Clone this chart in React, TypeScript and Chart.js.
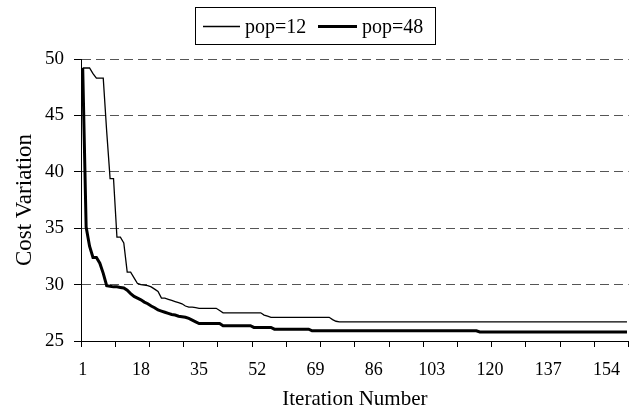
import { useEffect, useRef } from 'react';
import { Chart, registerables } from 'chart.js';

Chart.register(...registerables);

// ---- data ----
const iterations: string[] = Array.from({ length: 160 }, (_, i) => String(i + 1));
const xTickLabels = ['1', '18', '35', '52', '69', '86', '103', '120', '137', '154'];
const yTickValues = [25, 30, 35, 40, 45, 50];
const seriesNames = ['pop=12', 'pop=48'];

const pop12 = [
  49.2, 49.2, 49.2, 48.7, 48.3, 48.3, 48.3, 43.6, 39.4, 39.4,
  34.2, 34.2, 33.7, 31.1, 31.1, 30.6, 30.1, 30.0, 29.95, 29.9,
  29.8, 29.6, 29.4, 28.8, 28.8, 28.7, 28.6, 28.5, 28.4, 28.3,
  28.1, 28.0, 28.0, 27.95, 27.9, 27.9, 27.9, 27.9, 27.9, 27.9,
  27.7, 27.5, 27.5, 27.5, 27.5, 27.5, 27.5, 27.5, 27.5, 27.5,
  27.5, 27.5, 27.5, 27.3, 27.2, 27.1, 27.1, 27.1, 27.1, 27.1,
  27.1, 27.1, 27.1, 27.1, 27.1, 27.1, 27.1, 27.1, 27.1, 27.1,
  27.1, 27.1, 27.1, 26.9, 26.75, 26.7, 26.7, 26.7, 26.7, 26.7,
  26.7, 26.7, 26.7, 26.7, 26.7, 26.7, 26.7, 26.7, 26.7, 26.7,
  26.7, 26.7, 26.7, 26.7, 26.7, 26.7, 26.7, 26.7, 26.7, 26.7,
  26.7, 26.7, 26.7, 26.7, 26.7, 26.7, 26.7, 26.7, 26.7, 26.7,
  26.7, 26.7, 26.7, 26.7, 26.7, 26.7, 26.7, 26.7, 26.7, 26.7,
  26.7, 26.7, 26.7, 26.7, 26.7, 26.7, 26.7, 26.7, 26.7, 26.7,
  26.7, 26.7, 26.7, 26.7, 26.7, 26.7, 26.7, 26.7, 26.7, 26.7,
  26.7, 26.7, 26.7, 26.7, 26.7, 26.7, 26.7, 26.7, 26.7, 26.7,
  26.7, 26.7, 26.7, 26.7, 26.7, 26.7, 26.7, 26.7, 26.7, 26.7,
];

const pop48 = [
  49.2, 35.1, 33.4, 32.4, 32.4, 31.9, 31.0, 29.9, 29.85, 29.8,
  29.8, 29.75, 29.7, 29.5, 29.2, 28.95, 28.8, 28.65, 28.45, 28.3,
  28.1, 27.95, 27.75, 27.65, 27.55, 27.45, 27.35, 27.3, 27.2, 27.15,
  27.1, 27.0, 26.85, 26.7, 26.55, 26.55, 26.55, 26.55, 26.55, 26.55,
  26.55, 26.35, 26.35, 26.35, 26.35, 26.35, 26.35, 26.35, 26.35, 26.35,
  26.2, 26.2, 26.2, 26.2, 26.2, 26.2, 26.05, 26.05, 26.05, 26.05,
  26.05, 26.05, 26.05, 26.05, 26.05, 26.05, 26.05, 25.9, 25.9, 25.9,
  25.9, 25.9, 25.9, 25.9, 25.9, 25.9, 25.9, 25.9, 25.9, 25.9,
  25.9, 25.9, 25.9, 25.9, 25.9, 25.9, 25.9, 25.9, 25.9, 25.9,
  25.9, 25.9, 25.9, 25.9, 25.9, 25.9, 25.9, 25.9, 25.9, 25.9,
  25.9, 25.9, 25.9, 25.9, 25.9, 25.9, 25.9, 25.9, 25.9, 25.9,
  25.9, 25.9, 25.9, 25.9, 25.9, 25.9, 25.8, 25.8, 25.8, 25.8,
  25.8, 25.8, 25.8, 25.8, 25.8, 25.8, 25.8, 25.8, 25.8, 25.8,
  25.8, 25.8, 25.8, 25.8, 25.8, 25.8, 25.8, 25.8, 25.8, 25.8,
  25.8, 25.8, 25.8, 25.8, 25.8, 25.8, 25.8, 25.8, 25.8, 25.8,
  25.8, 25.8, 25.8, 25.8, 25.8, 25.8, 25.8, 25.8, 25.8, 25.8,
];

const FONT = '"Liberation Serif", "Times New Roman", serif';

const boxedLegend = {
  id: 'boxedLegend',
  afterDraw(chart: any) {
    const ctx = chart.ctx as CanvasRenderingContext2D;
    const ds = chart.data.datasets;
    ctx.save();
    ctx.strokeStyle = '#000';
    ctx.lineWidth = 1;
    ctx.strokeRect(195.5, 7.5, 240, 37);
    ctx.font = `20px ${FONT}`;
    ctx.fillStyle = '#000';
    ctx.textBaseline = 'alphabetic';
    const items = [
      { x1: 203, x2: 240, tx: 245 },
      { x1: 318, x2: 357, tx: 362 },
    ];
    items.forEach((it, i) => {
      ctx.beginPath();
      ctx.lineWidth = ds[i].borderWidth;
      ctx.strokeStyle = ds[i].borderColor;
      ctx.moveTo(it.x1, 26.5);
      ctx.lineTo(it.x2, 26.5);
      ctx.stroke();
      ctx.fillText(ds[i].label, it.tx, 33);
    });
    ctx.restore();
  },
};

export default function App() {
  const canvasRef = useRef<HTMLCanvasElement | null>(null);

  useEffect(() => {
    const canvas = canvasRef.current;
    if (!canvas) return;
    const chart = new Chart(canvas, {
      type: 'line',
      data: {
        labels: iterations,
        datasets: [
          {
            label: seriesNames[0],
            data: pop12,
            borderColor: '#000',
            borderWidth: 1.3,
            pointRadius: 0,
            tension: 0,
            fill: false,
          },
          {
            label: seriesNames[1],
            data: pop48,
            borderColor: '#000',
            borderWidth: 3,
            pointRadius: 0,
            tension: 0,
            fill: false,
          },
        ],
      },
      options: {
        responsive: false,
        animation: false,
        devicePixelRatio: 1,
        layout: { padding: { left: 0, right: 8, top: 59, bottom: 0 } },
        plugins: {
          legend: { display: false },
          tooltip: { enabled: false },
        },
        scales: {
          x: {
            type: 'category',
            offset: true,
            afterFit: (s: any) => {
              s.height = 68;
            },
            grid: {
              offset: true,
              drawOnChartArea: false,
              tickLength: 6,
              tickColor: (c: any) =>
                c.index === undefined || c.index % 10 === 0 ? '#000' : 'rgba(0,0,0,0)',
              color: 'rgba(0,0,0,0)',
            },
            border: { display: true, color: '#000', width: 1 },
            ticks: {
              autoSkip: false,
              maxRotation: 0,
              minRotation: 0,
              padding: 12,
              color: '#000',
              font: { family: FONT, size: 18 },
              callback: (_v: any, i: number) =>
                xTickLabels.includes(iterations[i]) ? iterations[i] : '',
            },
            title: {
              display: true,
              text: 'Iteration Number',
              color: '#000',
              font: { family: FONT, size: 21 },
              padding: { top: 0, bottom: -3 },
            },
          },
          y: {
            min: yTickValues[0],
            max: yTickValues[yTickValues.length - 1],
            afterFit: (s: any) => {
              s.width = 81;
            },
            afterBuildTicks: (s: any) => {
              s.ticks = yTickValues.map((v) => ({ value: v }));
            },
            grid: {
              color: (c: any) =>
                c.tick && c.tick.value === yTickValues[0] ? 'rgba(0,0,0,0)' : '#555',
              tickColor: '#000',
              tickLength: 7,
              tickBorderDash: [],
              lineWidth: 1,
            },
            border: { display: true, color: '#000', width: 1, dash: [9, 5] },
            ticks: {
              padding: 10,
              color: '#000',
              font: { family: FONT, size: 19 },
            },
            title: {
              display: true,
              text: 'Cost Variation',
              color: '#000',
              font: { family: FONT, size: 23 },
              padding: { top: 11, bottom: 0 },
            },
          },
        },
      },
      plugins: [boxedLegend],
    } as any);
    return () => chart.destroy();
  }, []);

  return (
    <div style={{ position: 'fixed', left: 0, top: 0, width: 639, height: 409, background: '#fff' }}>
      <canvas ref={canvasRef} width={639} height={409} />
    </div>
  );
}
